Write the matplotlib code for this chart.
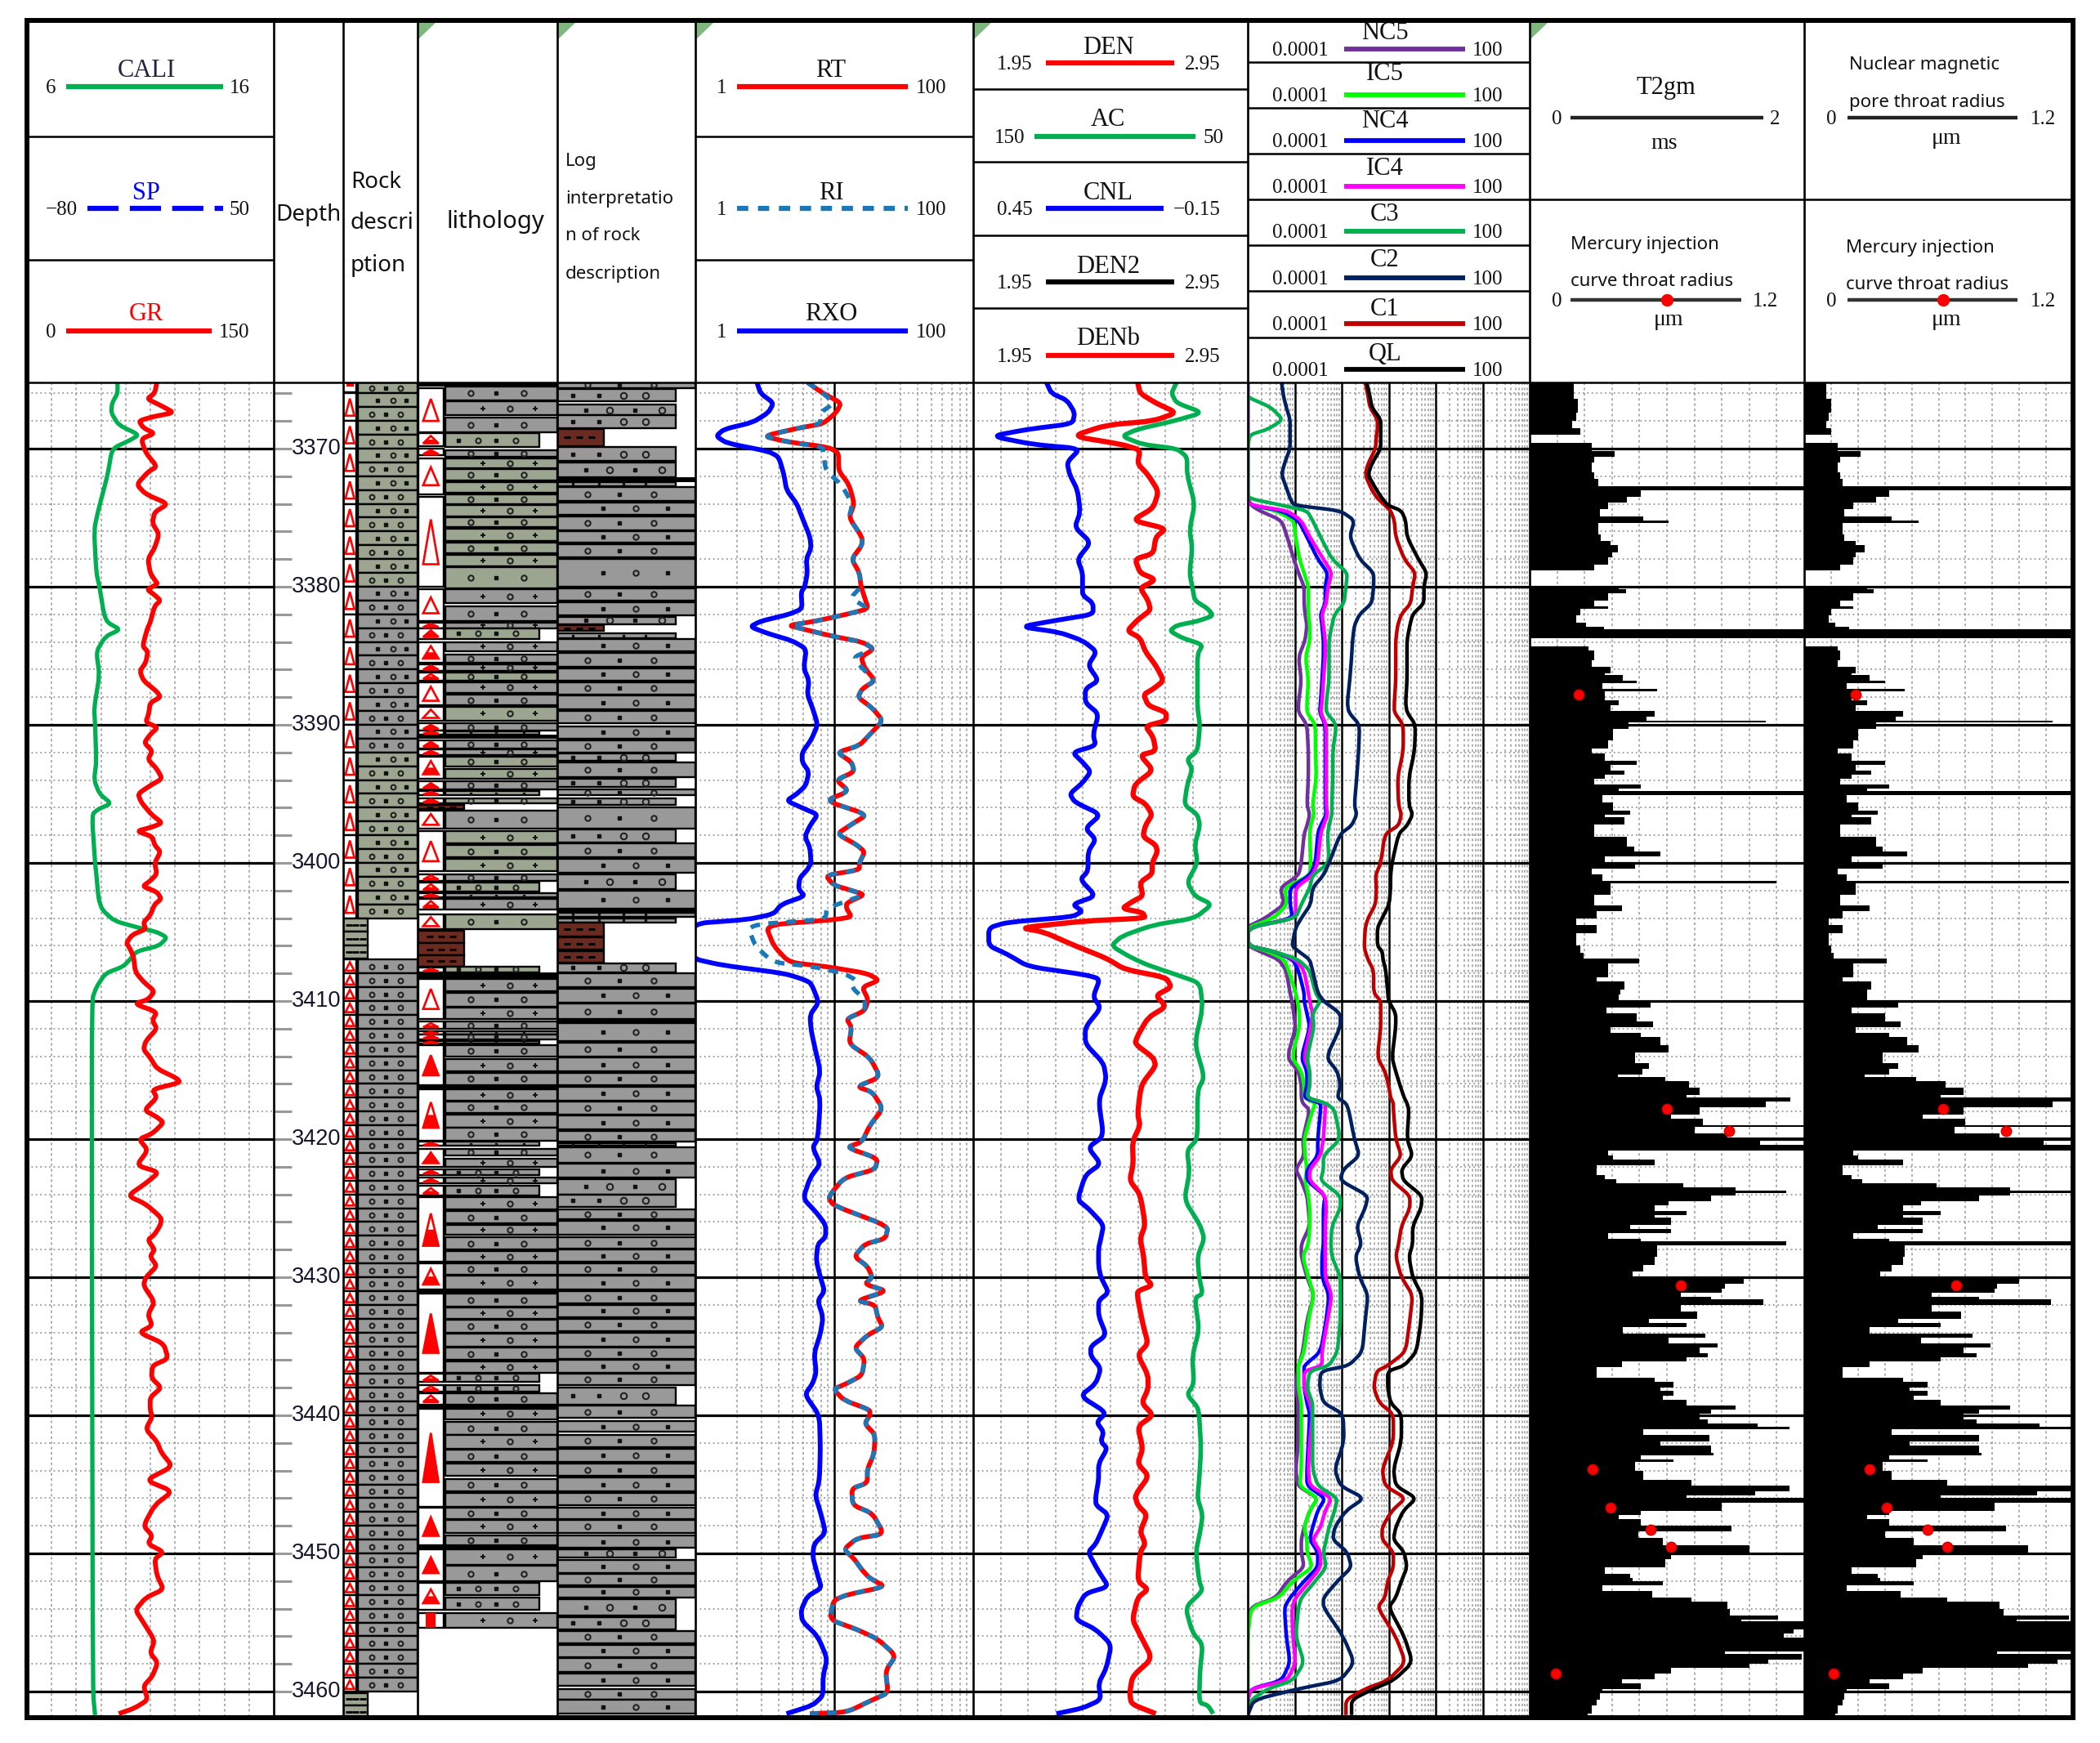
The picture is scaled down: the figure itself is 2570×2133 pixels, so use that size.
import numpy as np
import matplotlib
matplotlib.use("Agg")
import matplotlib.pyplot as plt
from matplotlib.patches import Rectangle, Polygon, PathPatch
from matplotlib.path import Path

W, H = 2570, 2133
TOP_D, BOT_D = 3365.21, 3461.89
SERIF = "Liberation Serif"
SANS = "Noto Sans"

# ---- depth scale
major_depths = [3370, 3380, 3390, 3400, 3410, 3420, 3430, 3440, 3450, 3460]
minor_depths = [3366, 3368, 3372, 3374, 3376, 3378, 3382, 3384, 3386, 3388, 3392, 3394, 3396, 3398,
                3402, 3404, 3406, 3408, 3412, 3414, 3416, 3418, 3422, 3424, 3426, 3428, 3432, 3434,
                3436, 3438, 3442, 3444, 3446, 3448, 3452, 3454, 3456, 3458]

# ---- track 1
gr_d = [3365.2, 3366, 3366.4, 3366.9, 3367.4, 3367.7, 3368, 3368.5, 3368.9, 3369.3, 3370.3, 3371.3, 3371.7, 3372.6, 3373.3, 3374, 3374.6, 3375.4, 3376.2, 3377.2, 3378, 3379,
        3379.5, 3379.8, 3380.2, 3380.6, 3381, 3381.4, 3382.6, 3383.1, 3384.3, 3384.7, 3385.5, 3386.1, 3386.8, 3387.6, 3388, 3388.4, 3389.2, 3389.8, 3390.2, 3390.7, 3391.3, 3391.9, 3392.5, 3393.2, 3393.9, 3394.4, 3395, 3395.6, 3396.5,
        3397.1, 3397.4, 3397.7, 3398.1, 3398.7, 3399.2, 3400, 3400.8, 3401.3, 3401.7, 3402.1, 3402.6, 3403, 3403.8, 3404.3, 3404.8, 3405.2, 3405.8, 3406.2, 3406.8, 3407.9, 3408.6, 3409.3, 3409.9, 3410.2, 3410.8, 3411.4, 3412, 3412.9, 3413.5, 3414.1, 3414.9, 3415.6, 3415.9, 3416.4, 3417, 3417.9, 3418.4, 3418.8, 3419.6, 3420, 3420.8, 3421.9, 3422.4, 3423.2, 3424.1, 3424.7, 3425.7, 3426.2,
        3426.9, 3427.3, 3428, 3428.5, 3429.2, 3430, 3430.6, 3431.8, 3432.7, 3433.5, 3434, 3434.8, 3435.9, 3436.4, 3437.3, 3438, 3438.7, 3439.6, 3440.1, 3441, 3441.9, 3442.7, 3443.7, 3444.7, 3445.5, 3446.5, 3448, 3448.7, 3449.3, 3449.9, 3450.4, 3451.6, 3452.6, 3453.2, 3454.1, 3455, 3456.3, 3457.2, 3457.9, 3458.9, 3459.6, 3460.6, 3461.2, 3461.6]
gr = [79, 77.6, 73, 81.7, 89.3, 76.2, 68, 70.8, 77.6, 69.4, 72.2, 79, 73.5, 66.7, 72.2, 85.8, 77.6, 76.2, 80.3, 77.6, 73.5, 74.9,
      77.6, 79.5, 73, 77.6, 81.2, 77.6, 74.9, 73, 70.3, 73.5, 72.2, 68.6, 70.8, 79, 81.2, 74.9, 74, 72.2, 79.5, 74.9, 71.3, 76.2, 73.5, 79, 82.2, 74.9, 67.5, 69.4, 75.7,
      82.2, 76.2, 66.7, 76.2, 77.6, 81.2, 77.6, 79, 74.9, 70.3, 79, 81.7, 77.6, 74.9, 70.8, 72.2, 64, 60.4, 62.6, 64.8, 65.9, 70.8, 77.6, 73.5, 65.4, 79, 76.2, 79, 72.2, 70.8, 74.9, 79, 91.2, 93.1, 76.2, 79, 71.3, 79, 83.1, 76.2, 68.1, 73.5, 66.7, 80.3, 72.2, 61.3, 72.2, 81.7, 81.2,
      77.6, 73.5, 77.6, 74.9, 79, 72.2, 70.8, 77.6, 73.5, 76.2, 68.1, 83.1, 85.8, 76.2, 75.7, 81.7, 74.9, 74.9, 76.2, 72.2, 79, 81.7, 88.5, 72.2, 88.5, 77.6, 70.8, 76.2, 73.5, 83.1, 77.6, 79, 83.1, 72.2, 65.9, 70.8, 77.6, 74.9, 79.5, 76.2, 70.8, 73.5, 65.4, 55.8]
cali_d = [3365.2, 3366, 3366.7, 3367.4, 3368.3, 3369, 3369.4, 3370, 3371.9, 3374.6, 3375.9, 3379,
          3380, 3382, 3382.6, 3383.1, 3383.6, 3384.7, 3386.4, 3388.8, 3389.9, 3392.7, 3394, 3395, 3395.7, 3396.1, 3396.5,
          3400, 3400.8, 3402.6, 3403.4, 3404.2, 3404.7, 3405, 3405.4, 3406, 3406.4, 3407, 3407.5, 3408, 3409, 3409.9, 3426.3, 3460, 3461.7]
cali = [9.67, 9.67, 9.45, 9.41, 9.72, 10.54, 10.17, 9.45, 9.27, 8.87, 8.72, 8.81,
        8.94, 9.12, 9.27, 9.78, 9.18, 8.81, 8.94, 8.72, 8.76, 8.81, 8.72, 8.94, 9.41, 8.9, 8.63,
        8.76, 8.81, 8.9, 9.05, 9.54, 10.54, 11.26, 11.68, 11.35, 10.45, 10.17, 9.9, 9.18, 8.81, 8.63, 8.63, 8.67, 8.76]

# ---- resistivity, log10 of ohm.m
rt_d = [3365.2, 3366, 3366.7, 3367.4, 3368.2, 3368.5, 3369.1, 3369.5, 3369.9, 3370.3, 3371.6, 3372.6, 3374, 3375, 3376.4, 3377, 3378, 3379,
        3380, 3380.8, 3381.6, 3382, 3382.5, 3382.8, 3383.1, 3383.6, 3384, 3384.5, 3385.1, 3385.9, 3386.8, 3387.4, 3388, 3388.8, 3389.7, 3390.7, 3391.5, 3392, 3392.7, 3393.4, 3394, 3394.8, 3395.5, 3396.5,
        3397.2, 3397.9, 3398.7, 3399.2, 3400, 3400.5, 3400.9, 3401.6, 3402, 3402.3, 3402.9, 3403.3, 3403.9, 3404.1, 3404.5, 3406, 3407.2, 3407.5, 3408, 3408.5, 3409, 3409.9,
        3410.7, 3411.3, 3411.9, 3413.1, 3414.1, 3415.5, 3416.2, 3416.6, 3417.8, 3419, 3420.2, 3420.6, 3421.4, 3422.2, 3422.8, 3424.2, 3424.8, 3426.3,
        3427.2, 3427.6, 3428.5, 3429.2, 3430, 3430.5, 3431, 3431.7, 3432, 3432.9, 3433.6, 3434.2, 3435.1, 3435.9, 3437.1, 3437.7, 3438.1, 3438.9, 3439.6, 3440, 3440.6, 3441.4, 3442.8, 3443.9, 3444.9, 3445.3, 3446.5, 3447.1, 3448.6, 3448.9, 3449.7, 3450.4, 3451.2, 3451.8, 3452.4, 3453, 3453.4, 3454.8, 3455.5, 3456.2, 3457.4, 3458.5, 3460.1, 3460.6, 3461.5, 3461.6]
rt_log = [.806, .919, 1.05, 1.013, .919, .75, .488, .656, .956, 1.031, 1.031, 1.106, 1.144, 1.106, 1.2, 1.2, 1.125, 1.181,
          1.193, 1.219, 1.245, 1.088, .863, .668, .788, .994, 1.2, 1.286, 1.193, 1.219, 1.294, 1.2, 1.17, 1.275, 1.35, 1.256, 1.181, 1.02, 1.125, 1.144, 1.013, 1.106, .938, 1.238,
          1.125, 1.02, 1.163, 1.219, 1.181, 1.181, .938, .994, 1.125, 1.219, 1.088, 1.088, 1.125, 1.013, .506, .563, .675, .938, 1.238, 1.324, 1.2, 1.245,
          1.219, 1.088, 1.125, 1.106, 1.256, 1.331, 1.163, 1.275, 1.35, 1.256, 1.2, 1.088, 1.313, 1.294, 1.069, .956, .994, 1.388,
          1.369, 1.219, 1.144, 1.238, 1.275, 1.219, 1.38, 1.163, 1.294, 1.313, 1.35, 1.238, 1.144, 1.219, 1.2, 1.088, .994, 1.069, 1.256, 1.256, 1.219, 1.294, 1.286, 1.238, 1.238, 1.125, 1.133, 1.275, 1.358, 1.163, 1.069, 1.144, 1.2, 1.256, 1.369, 1.088, .994, .968, 1.163, 1.313, 1.444, 1.369, 1.388, 1.275, 1.088, .825]
ri_log = [.806, .919, 1.0, .9, .9, .75, .488, .656, .92, .92, .94, 1.05, 1.13, 1.106, 1.2, 1.2, 1.125, 1.181,
          1.193, 1.118, 1.245, 1.088, .863, .668, .788, .994, 1.2, 1.286, 1.136, 1.2, 1.294, 1.2, 1.17, 1.275, 1.35, 1.256, 1.181, 1.02, 1.125, 1.144, 1.013, 1.106, .938, 1.238,
          1.125, 1.02, 1.163, 1.219, 1.181, 1.181, .938, .994, 1.125, 1.219, 1.05, .945, .94, .9, .375, .43, .56, .84, 1.07, 1.16, 1.125, 1.22,
          1.219, 1.088, 1.125, 1.106, 1.256, 1.331, 1.163, 1.275, 1.35, 1.256, 1.2, 1.088, 1.313, 1.294, 1.069, .956, .994, 1.388,
          1.369, 1.219, 1.144, 1.238, 1.275, 1.219, 1.38, 1.163, 1.294, 1.313, 1.35, 1.238, 1.144, 1.219, 1.2, 1.088, .994, 1.069, 1.256, 1.256, 1.219, 1.294, 1.286, 1.238, 1.238, 1.125, 1.133, 1.275, 1.358, 1.163, 1.069, 1.144, 1.2, 1.256, 1.369, 1.088, .994, .968, 1.163, 1.313, 1.444, 1.369, 1.388, 1.275, 1.088, .825]
rxo_d = [3365.2, 3366, 3366.7, 3367.4, 3368.1, 3368.6, 3369.1, 3369.6, 3370.2, 3370.6, 3371.9, 3373, 3374, 3375, 3376.4, 3377.2, 3378, 3379,
         3380, 3380.4, 3381.6, 3382, 3382.5, 3382.9, 3383.4, 3383.9, 3384.5, 3385.9, 3386.8, 3387.8, 3388.8, 3390, 3391.1, 3392, 3392.7, 3393.4, 3394.4, 3395, 3395.5, 3396.1, 3396.5,
         3397.3, 3398.1, 3398.9, 3400, 3400.5, 3401.1, 3401.9, 3402.4, 3403, 3403.7, 3404.1, 3404.4, 3406.9, 3407.4, 3408, 3408.4, 3408.7, 3410.1, 3411, 3412.1, 3413.5, 3415.1, 3416.2, 3417.2, 3420, 3420.6, 3421.8, 3422.8, 3424.3, 3425.3, 3426.2,
         3427.1, 3427.6, 3428.8, 3430, 3431, 3431.7, 3432.9, 3434.1, 3435.5, 3436.9, 3437.7, 3438.5, 3440, 3442.4, 3444.7, 3445.8, 3447, 3448.5, 3449.3, 3450.2, 3451.6, 3452.5, 3453.1, 3454.1, 3454.9, 3456, 3457.6, 3458.9, 3460.3, 3461, 3461.6]
rxo_log = [.443, .469, .563, .525, .413, .206, .15, .225, .525, .6, .638, .656, .731, .769, .825, .833, .799, .806,
           .788, .761, .769, .675, .469, .394, .525, .694, .799, .78, .818, .806, .844, .881, .833, .769, .769, .818, .795, .731, .656, .788, .881,
           .825, .788, .825, .833, .806, .75, .743, .788, .619, .563, .375, -.03, -.03, .188, .638, .769, .833, .889, .825, .833, .863, .9, .87, .9, .881, .844, .9, .825, .776, .87, .938,
           .938, .881, .87, .9, .93, .881, .919, .9, .855, .87, .844, .788, .893, .9, .893, .863, .9, .938, .855, .844, .881, .908, .806, .761, .769, .881, .949, .919, .919, .844, .656]

# ---- porosity and density
den_d = [3365.2, 3366, 3366.7, 3367.4, 3368, 3368.3, 3369.1, 3369.7, 3370.1, 3371.1, 3371.9, 3373.1, 3374.3, 3375.2, 3375.8, 3376.4, 3377.6, 3378, 3379,
         3379.4, 3379.6, 3380.1, 3381, 3381.7, 3382.4, 3383.2, 3383.7, 3384.7, 3385.7, 3386.8, 3387.4, 3387.8, 3388.6, 3389.1, 3389.7, 3390.1, 3390.9, 3391.9, 3392.2, 3393.3, 3394.3, 3395.2, 3395.7, 3396.5,
         3397.3, 3398.1, 3398.7, 3399.2, 3400, 3400.8, 3401.4, 3402.4, 3402.8, 3403.3, 3403.6, 3404, 3404.2, 3404.7, 3405, 3406, 3406.9, 3407.7, 3408.3, 3409, 3409.6, 3410.4, 3411.2, 3412.5, 3413.1, 3414.1, 3414.7, 3415.9, 3416.6, 3418.2, 3419, 3420.2, 3421.8, 3423, 3424, 3426.2,
         3427.2, 3428.5, 3430, 3430.6, 3431, 3431.5, 3433.4, 3434.8, 3435.6, 3437.1, 3438.1, 3439.1, 3440, 3440.8, 3442.4, 3443.5, 3444.4, 3445.8, 3446.5, 3447.2, 3448.4, 3449.3, 3449.9, 3452, 3452.6, 3453.2, 3454.8, 3455.9, 3457.6, 3458.9, 3460.1, 3460.9, 3461.6]
den = [2.549, 2.558, 2.615, 2.691, 2.606, 2.435, 2.311, 2.492, 2.558, 2.549, 2.587, 2.625, 2.606, 2.53, 2.653, 2.615, 2.606, 2.539, 2.558,
       2.606, 2.606, 2.558, 2.587, 2.596, 2.549, 2.511, 2.558, 2.577, 2.615, 2.644, 2.606, 2.571, 2.587, 2.653, 2.653, 2.577, 2.606, 2.615, 2.558, 2.606, 2.539, 2.53, 2.577, 2.602,
       2.577, 2.568, 2.615, 2.621, 2.602, 2.602, 2.558, 2.568, 2.53, 2.492, 2.568, 2.577, 2.359, 2.121, 2.207, 2.321, 2.435, 2.501, 2.653, 2.672, 2.615, 2.653, 2.587, 2.549, 2.539, 2.606, 2.615, 2.568, 2.558, 2.549, 2.558, 2.53, 2.533, 2.52, 2.558, 2.577,
       2.558, 2.571, 2.577, 2.602, 2.549, 2.549, 2.568, 2.587, 2.549, 2.587, 2.587, 2.564, 2.606, 2.549, 2.568, 2.549, 2.59, 2.539, 2.549, 2.583, 2.558, 2.577, 2.558, 2.549, 2.587, 2.549, 2.53, 2.558, 2.602, 2.53, 2.52, 2.526, 2.615]
ac_d = [3365.2, 3366, 3366.7, 3367.4, 3368, 3368.6, 3369.1, 3369.7, 3370, 3370.6, 3371.9, 3374, 3375.9, 3377.2, 3379,
        3380, 3381, 3381.6, 3382.1, 3382.5, 3382.8, 3383.2, 3383.7, 3384.2, 3384.9, 3386.8, 3388.8, 3390, 3391.9, 3392.5, 3393.2, 3394.4, 3395.8, 3396.5,
        3397.3, 3398.7, 3400, 3401.4, 3402.4, 3403, 3404, 3404.5, 3405.3, 3406, 3406.8, 3407.4, 3408.1, 3408.7, 3410.5, 3413.1, 3415.5, 3416.5, 3420, 3420.8, 3422.4, 3424.4, 3426.2,
        3427.2, 3428.5, 3430, 3431.2, 3431.5, 3433.8, 3435.7, 3437.7, 3438.5, 3439.4, 3440, 3442.4, 3444.7, 3446, 3447.2, 3448.5, 3449.9, 3452, 3452.7, 3453.9, 3455.7, 3456.6, 3458.5, 3460.8, 3461, 3461.6]
ac = [75.9, 77.8, 75.9, 66.4, 76.9, 90.2, 95.9, 88.3, 75.9, 72.1, 72.1, 69.3, 71.2, 70.2, 71.2,
      70.2, 69.3, 64.5, 62.6, 68.3, 75.9, 78.4, 74, 66.4, 68.3, 68.3, 68.3, 67.4, 68.3, 72.1, 70.2, 72.1, 73.1, 68.3,
      67.4, 69.3, 68.3, 72.1, 69.3, 63, 69.3, 84.5, 95.9, 99.7, 93, 86.4, 75.9, 67.4, 66.4, 69.3, 65.8, 68.3, 68.3, 72.1, 71.2, 73.1, 67.4,
      65.8, 68.3, 67.7, 66.4, 69.3, 67.7, 70.2, 69.6, 72.1, 68.3, 67.7, 67, 67.7, 68.3, 66.4, 67.4, 68.9, 67.7, 66.4, 72.7, 70.2, 66.4, 67.4, 67.7, 64.5, 62.6]
cnl_d = [3365.2, 3366, 3366.5, 3367.4, 3368.2, 3368.6, 3369.1, 3369.7, 3370, 3371, 3371.9, 3373, 3374.6, 3375.7, 3376.8, 3378, 3379,
         3380, 3380.6, 3381.2, 3382, 3382.4, 3382.9, 3383.3, 3383.9, 3384.7, 3385.7, 3386.8, 3387.4, 3388.4, 3389.2, 3390.7, 3391.5, 3392, 3392.7, 3393.4, 3394.2, 3395, 3395.6, 3396.5,
         3397.5, 3398.3, 3399.2, 3400.6, 3401.2, 3402.4, 3403, 3403.5, 3403.9, 3404.3, 3404.7, 3406, 3406.6, 3407.5, 3408.1, 3408.4, 3409.7, 3410.5, 3411.9, 3413.1, 3414.5, 3415.7, 3417.2, 3419.8, 3420.6, 3421.8, 3422.6, 3424.4, 3425, 3426.2,
         3427.2, 3427.9, 3429.2, 3430, 3431.1, 3431.7, 3432.8, 3434.2, 3435, 3435.7, 3436.6, 3437.7, 3438.6, 3439.8, 3440.5, 3441.2, 3441.9, 3442.4, 3443.5, 3444.7, 3445.8, 3446.5, 3447.2, 3448.5, 3449.3, 3449.9, 3451.3, 3452.4, 3452.9, 3453.9, 3454.8, 3455.5, 3456.6, 3458.3, 3459.4, 3460.6, 3461.2, 3461.6]
cnl = [.29, .279, .245, .228, .233, .33, .41, .319, .216, .245, .239, .222, .216, .228, .193, .222, .211,
       .211, .211, .188, .188, .262, .347, .262, .211, .18, .199, .176, .205, .205, .176, .188, .182, .233, .211, .193, .211, .239, .228, .171,
       .205, .182, .199, .199, .216, .182, .233, .211, .233, .376, .416, .416, .376, .33, .205, .173, .188, .171, .205, .205, .165, .159, .176, .165, .199, .171, .205, .222, .199, .165,
       .171, .176, .176, .171, .154, .176, .176, .159, .193, .193, .171, .182, .216, .159, .18, .165, .171, .157, .176, .176, .182, .182, .154, .171, .182, .199, .176, .154, .205, .222, .225, .182, .148, .159, .176, .171, .211, .268]

# ---- mud gas, log10 of percent, all curves read at the same depths
gas_d = [3365.2, 3366.2, 3367, 3367.9, 3368.6, 3369, 3370, 3371.1, 3371.9, 3373, 3373.6,
         3374.1, 3374.5, 3375.2, 3376.4, 3378, 3379,
         3380, 3381.2, 3382, 3382.8, 3383.9, 3385.1, 3386.8, 3388.4, 3389.1, 3390, 3391.9, 3393.8, 3395.8, 3396.5,
         3397.3, 3397.9, 3400, 3400.9, 3401.8, 3403, 3404, 3404.7, 3406, 3406.4, 3407, 3407.8, 3409.4, 3410, 3410.9, 3411.9, 3414.1, 3415.1, 3416.1, 3417, 3417.4, 3417.9, 3420, 3421.2, 3422.2, 3423, 3424.1, 3425, 3426.3,
         3427.6, 3428.5, 3430, 3431.3, 3433.1, 3435.4, 3436.4, 3436.8, 3438, 3439.1, 3439.9, 3441.9, 3443.9, 3445.1, 3446, 3446.9, 3448.1, 3449, 3449.9, 3451, 3452, 3453.2, 3453.9, 3456, 3457.9, 3459.2, 3459.8, 3460.6, 3461.7]
nc5 = [-4, -4, -4, -4, -4, -4, -4, -4, -4, -4, -4,
       -3.93, -3.75, -3.28, -3.16, -3.02, -2.92,
       -2.80, -2.80, -2.78, -2.74, -2.78, -2.92, -2.86, -2.92, -2.92, -2.74, -2.71, -2.71, -2.74, -2.68,
       -2.74, -2.80, -2.86, -2.92, -3.31, -3.22, -3.63, -4.05, -3.99, -3.75, -3.34, -3.18, -3.10, -3.06, -3.02, -2.98, -3.16, -2.92, -2.86, -2.86, -2.83, -2.68, -2.83, -2.80, -2.98, -2.86, -2.74, -2.71, -2.68,
       -2.86, -2.86, -2.74, -2.59, -2.74, -2.83, -2.92, -2.94, -2.98, -2.92, -2.92, -2.92, -2.98, -2.94, -2.51, -2.68, -2.80, -2.86, -2.86, -2.80, -3.16, -3.40, -3.96, -4, -4, -4, -4, -4, -4]
ic5 = [-4, -4, -4, -4, -4, -4, -4, -4, -4, -4, -4,
       -3.93, -3.40, -3.02, -2.98, -2.90, -2.80,
       -2.71, -2.71, -2.71, -2.68, -2.68, -2.77, -2.71, -2.74, -2.74, -2.56, -2.56, -2.54, -2.62, -2.59,
       -2.66, -2.68, -2.66, -2.68, -3.22, -3.16, -3.45, -4.01, -3.99, -3.57, -3.22, -3.13, -2.98, -2.94, -2.90, -2.90, -3.06, -2.86, -2.80, -2.80, -2.56, -2.62, -2.80, -2.78, -2.74, -2.78, -2.71, -2.68, -2.68,
       -2.71, -2.83, -2.71, -2.59, -2.71, -2.80, -2.92, -2.92, -2.92, -2.86, -2.86, -2.86, -2.86, -2.90, -2.51, -2.68, -2.80, -2.74, -2.74, -2.62, -3.04, -3.34, -3.93, -4, -4, -4, -4, -4, -4]
nc4 = [-4, -4, -4, -4, -4, -4, -4, -4, -4, -4, -4,
       -3.93, -3.28, -2.92, -2.74, -2.51, -2.30,
       -2.35, -2.35, -2.45, -2.42, -2.39, -2.39, -2.42, -2.45, -2.47, -2.35, -2.35, -2.35, -2.35, -2.33,
       -2.45, -2.51, -2.56, -2.68, -3.10, -3.10, -3.04, -3.99, -3.99, -3.45, -3.04, -2.92, -2.80, -2.80, -2.74, -2.68, -2.86, -2.74, -2.74, -2.80, -2.45, -2.45, -2.51, -2.51, -2.74, -2.74, -2.35, -2.39, -2.39,
       -2.39, -2.42, -2.42, -2.27, -2.33, -2.45, -2.80, -2.80, -2.80, -2.74, -2.68, -2.71, -2.74, -2.74, -2.35, -2.51, -2.62, -2.68, -2.51, -2.51, -2.80, -3.10, -3.22, -3.18, -3.10, -3.28, -3.93, -4, -4]
ic4 = [-4, -4, -4, -4, -4, -4, -4, -4, -4, -4, -4,
       -3.93, -3.16, -2.86, -2.68, -2.39, -2.21,
       -2.29, -2.33, -2.42, -2.39, -2.35, -2.35, -2.39, -2.42, -2.45, -2.33, -2.33, -2.33, -2.33, -2.30,
       -2.39, -2.45, -2.51, -2.62, -2.98, -2.98, -2.98, -3.99, -3.99, -3.45, -2.98, -2.80, -2.71, -2.68, -2.62, -2.66, -2.80, -2.68, -2.68, -2.74, -2.35, -2.35, -2.39, -2.45, -2.68, -2.68, -2.35, -2.33, -2.35,
       -2.35, -2.35, -2.35, -2.21, -2.30, -2.42, -2.42, -2.80, -2.80, -2.68, -2.62, -2.68, -2.71, -2.68, -2.21, -2.35, -2.45, -2.62, -2.45, -2.45, -2.68, -2.98, -3.06, -3.04, -2.98, -3.16, -3.93, -4, -4]
c3 = [-4, -4.05, -3.51, -3.25, -3.57, -3.96, -4, -4, -4, -4, -3.99,
      -3.28, -2.74, -2.62, -2.45, -2.21, -1.88,
      -1.91, -1.95, -2.15, -2.21, -2.27, -2.27, -2.27, -2.33, -2.33, -2.11, -2.19, -2.19, -2.21, -2.21,
      -2.27, -2.30, -2.27, -2.62, -2.68, -2.86, -2.98, -3.99, -3.99, -3.45, -2.92, -2.68, -2.56, -2.45, -2.62, -2.59, -2.74, -2.68, -2.68, -2.74, -2.33, -2.15, -2.03, -2.39, -2.39, -2.45, -2.03, -2.03, -2.21,
      -2.23, -2.21, -2.03, -2.03, -2.03, -2.09, -2.27, -2.68, -2.74, -2.62, -2.62, -2.62, -2.62, -2.51, -2.09, -2.15, -2.27, -2.33, -2.39, -2.33, -2.56, -2.86, -2.92, -2.98, -2.80, -3.04, -3.57, -3.93, -4]
c2 = [-3.28, -3.24, -3.18, -3.10, -3.10, -3.10, -3.10, -3.22, -3.28, -3.16, -3.10,
      -3.02, -2.03, -1.73, -1.83, -1.62, -1.32,
      -1.32, -1.36, -1.62, -1.73, -1.77, -1.79, -1.83, -1.88, -1.85, -1.62, -1.64, -1.68, -1.73, -1.68,
      -1.79, -2.03, -2.27, -2.39, -2.62, -2.66, -2.86, -2.98, -3.06, -2.92, -2.68, -2.62, -2.51, -2.39, -2.03, -2.03, -2.33, -2.09, -2.03, -2.09, -1.91, -1.85, -1.73, -1.62, -1.97, -2.03, -1.44, -1.50, -1.68,
      -1.58, -1.71, -1.62, -1.44, -1.50, -1.56, -1.85, -2.45, -2.47, -2.39, -1.97, -1.95, -2.15, -2.03, -1.52, -1.91, -2.15, -2.19, -1.88, -1.79, -2.09, -2.39, -2.39, -1.97, -1.73, -2.03, -2.92, -3.87, -4]
c1 = [-1.50, -1.44, -1.40, -1.24, -1.24, -1.26, -1.28, -1.44, -1.50, -1.36, -1.24,
      -1.08, -.96, -.88, -.85, -.67, -.43,
      -.49, -.53, -.73, -.81, -.85, -.85, -.85, -.88, -.88, -.69, -.69, -.81, -.79, -.73,
      -.79, -1.08, -1.17, -1.28, -1.26, -1.28, -1.44, -1.50, -1.52, -1.50, -1.44, -1.32, -1.32, -1.17, -1.17, -1.17, -1.24, -1.08, -1.00, -.96, -.90, -.90, -.85, -.73, -.96, -.93, -.55, -.55, -.73,
      -.79, -.85, -.73, -.49, -.55, -.64, -1.02, -1.26, -1.32, -1.20, -.90, -.90, -1.14, -1.08, -.64, -.93, -1.14, -1.14, -.90, -.90, -1.02, -1.08, -1.24, -.85, -.64, -1.02, -1.50, -1.91, -1.91]
ql = [-1.47, -1.40, -1.36, -1.17, -1.17, -1.17, -1.17, -1.36, -1.44, -1.26, -1.14,
      -1.02, -.73, -.64, -.61, -.37, -.19,
      -.25, -.25, -.49, -.55, -.61, -.61, -.61, -.64, -.61, -.43, -.45, -.57, -.57, -.49,
      -.61, -.79, -.93, -.96, -.96, -.99, -1.14, -1.24, -1.24, -1.14, -1.12, -1.06, -1.02, -1.00, -.85, -.85, -.93, -.85, -.76, -.67, -.61, -.57, -.61, -.49, -.73, -.69, -.29, -.31, -.49,
      -.49, -.57, -.49, -.29, -.31, -.41, -.67, -1.02, -1.02, -.96, -.73, -.73, -.90, -.85, -.41, -.69, -.85, -.90, -.67, -.61, -.73, -.85, -1.00, -.67, -.49, -.90, -1.32, -1.79, -1.79]

# ---- nmr bars
bar_d = [3365.2, 3366.4, 3367.4, 3368, 3368.5, 3369, 3369.6, 3370.2, 3370.6, 3371, 3371.7, 3372.2, 3372.7, 3373, 3373.5, 3373.9, 3374.4, 3374.9, 3375.2, 3375.4, 3376.2, 3376.7, 3377, 3377.5, 3377.9, 3378.4, 3378.8,
         3380, 3380.2, 3380.5, 3381, 3381.4, 3381.6, 3382.1, 3382.6, 3382.9, 3383.1, 3383.7, 3384.3, 3384.6, 3385.3, 3385.8, 3386.3, 3386.4, 3386.8, 3387, 3387.4, 3387.6, 3388.2, 3388.6, 3389, 3389.4, 3389.7, 3389.8, 3390.3, 3391.1, 3391.7, 3392.1, 3392.6, 3392.9, 3393.3, 3393.6, 3393.9, 3394.3, 3394.6, 3394.8, 3395.1, 3395.6, 3396.2, 3396.5,
         3396.7, 3397.2, 3398.1, 3398.8, 3399.2, 3399.5, 3400, 3400.4, 3400.8, 3401.3, 3401.5, 3402.3, 3403.1, 3403.5, 3404, 3404.5, 3405.1, 3406, 3406.5, 3406.9, 3407.3, 3408.3, 3408.6, 3409.2, 3409.5, 3410, 3410.5, 3410.9, 3411.5, 3411.9, 3412.3, 3412.6, 3413.2, 3413.7, 3414.5, 3414.9, 3415.3, 3415.5, 3415.8, 3416.3, 3416.8, 3417, 3417.3, 3417.7, 3418.2, 3418.5, 3419, 3419.1, 3419.6, 3419.9, 3420, 3420.4, 3420.8, 3421.2, 3421.5, 3421.9, 3422.6, 3422.9, 3423.2, 3423.5, 3423.7, 3423.9, 3424.1, 3424.5, 3424.8, 3425.2, 3425.5, 3425.7, 3426.2,
         3426.5, 3426.8, 3427.2, 3427.4, 3427.7, 3428.5, 3429.1, 3429.6, 3430.1, 3430.5, 3430.8, 3431.1, 3431.4, 3431.6, 3432, 3432.5, 3433, 3433.3, 3433.6, 3434.1, 3434.4, 3434.8, 3435.1, 3435.5, 3435.8, 3436.1, 3436.5, 3437.3, 3437.6, 3438, 3438.2, 3438.6, 3438.9, 3439.3, 3439.6, 3439.9, 3440.3, 3440.6, 3440.8, 3441, 3441.4, 3441.9, 3442.2, 3442.7, 3442.9, 3443.2, 3443.4, 3444, 3444.7, 3445.1, 3445.5, 3445.8, 3446, 3446.3, 3446.9, 3447.2, 3447.5, 3448, 3448.4, 3448.9, 3449.4, 3450, 3450.4, 3451, 3451.5, 3451.8, 3452, 3452.3, 3452.7, 3453.2, 3453.5, 3454, 3454.5, 3454.8, 3454.9, 3455.5, 3455.8, 3456.1, 3457.1, 3457.3, 3457.7, 3458, 3458.3, 3458.7, 3459.1, 3459.4, 3459.8, 3460.1, 3460.6, 3461, 3461.6, 3462]
t2gm = [.32, .35, .34, .31, .37, 0, .45, .62, .47, .45, .47, .50, 2, .81, .71, .57, .51, .83, 1.01, .50, .52, .59, .64, .60, .57, .47, 0,
        .65, .70, .57, .47, .57, .37, .34, .41, .54, 2, 0, .43, .47, .45, .59, .55, .68, .78, .53, .93, .55, .65, .59, .91, .85, 1.72, .72, .61, .57, .45, .55, .78, .59, .69, .55, .47, .81, .65, 2, .53, .61, .73, .55,
        .69, .47, .71, .76, .95, .55, .77, .45, .53, 1.80, .59, .47, .67, .49, .34, .49, .34, .37, .39, .80, .57, .49, .69, .66, .65, .88, .56, .78, .90, .59, .81, .95, 1.01, .77, .87, .82, .64, .99, 1.16, 1.24, 1.14, 1.90, 1.72, 1.24, 1.03, 1.26, 2, 1.20, 1.44, 2, 1.68, 2, .57, .61, .91, .49, .55, .63, 1.12, 1.50, 1.87, 1.50, 1.32, 1.01, .91, 1.14, .91, 1.03, .73,
        1.03, .57, .81, 1.87, .93, .91, .83, .75, 1.56, 1.42, 1.40, 1.10, 1.32, 1.70, 1.10, 1.22, .87, 1.14, .68, 1.28, 1.01, 1.37, 1.24, 1.30, 1.14, .67, .49, .91, 1.05, .95, 1.05, .97, 1.14, 1.50, 1.32, 1.24, 1.30, 1.66, 1.89, .83, 1.31, .95, 1.32, 1.34, .81, 1.05, .77, .83, 1.18, 1.89, 1.64, 1.14, 2, 1.40, .81, .65, .81, 1.47, .79, .97, 1.60, 1.03, .99, .55, .73, .75, .97, .53, .89, 1.18, 1.44, 1.46, 1.81, 1.54, 2, 1.92, 1.85, 2, 1.42, 1.98, 1.74, 1.60, 1.03, .91, .67, .81, .53, .51, .49, .45, .42, .42]
pore = [.10, .12, .11, .10, .12, 0, .15, .25, .16, .15, .16, .17, 1.2, .38, .32, .22, .18, .39, .51, .17, .18, .23, .27, .23, .22, .16, 0,
        .28, .31, .22, .16, .22, .12, .11, .14, .20, 1.2, 0, .15, .16, .15, .23, .21, .29, .36, .19, .45, .21, .28, .23, .44, .41, 1.11, .32, .24, .22, .15, .21, .36, .23, .30, .21, .16, .38, .28, 1.2, .19, .24, .33, .21,
        .30, .16, .32, .35, .46, .21, .35, .15, .19, 1.18, .23, .16, .29, .17, .11, .17, .11, .12, .13, .37, .22, .17, .30, .28, .28, .42, .21, .36, .43, .23, .38, .46, .51, .35, .42, .38, .27, .50, .63, .71, .61, 1.2, 1.11, .71, .53, .72, 1.2, .67, .87, 1.2, 1.07, 1.2, .22, .24, .44, .17, .21, .26, .59, .92, 1.2, .92, .78, .52, .44, .61, .44, .53, .33,
        .53, .22, .38, 1.2, .45, .44, .39, .34, .96, .86, .85, .57, .78, 1.10, .57, .70, .42, .61, .29, .75, .52, .83, .71, .77, .61, .29, .17, .44, .55, .47, .55, .49, .61, .92, .78, .71, .77, 1.05, 1.2, .39, .78, .47, .78, .79, .38, .55, .35, .39, .64, 1.2, 1.04, .61, 1.2, .85, .38, .28, .38, .90, .36, .49, 1.0, .53, .50, .21, .33, .34, .49, .19, .43, .64, .87, .89, 1.18, .95, 1.2, 1.2, 1.2, 1.2, .86, 1.2, 1.13, 1.0, .53, .44, .29, .38, .19, .18, .17, .15, .14, .14]
dot_d = [3387.8, 3417.8, 3419.4, 3430.6, 3443.9, 3446.7, 3448.3, 3449.5, 3458.7]
t2_dot = [.36, 1.0, 1.45, 1.10, .46, .59, .88, 1.03, .19]
pore_dot = [.23, .62, .90, .68, .29, .37, .55, .64, .13]

# ---- rock description column, bed boundaries in metres
rock_upper = [3365.2, 3366, 3367, 3368, 3369, 3370, 3371, 3372, 3373, 3374, 3375, 3376, 3377, 3378, 3379, 3380, 3381,
              3382, 3383, 3384, 3385, 3386, 3387, 3388, 3389, 3390, 3391, 3392, 3393, 3394, 3395, 3396, 3397, 3398,
              3399, 3400, 3401, 3402, 3403, 3404]
rock_lower = [3407, 3408, 3409, 3410, 3411, 3412, 3413, 3414, 3415, 3416, 3417, 3418, 3419, 3420, 3421, 3422, 3423, 3424,
              3425, 3426, 3427, 3428, 3429, 3430, 3431, 3432, 3433, 3434, 3435, 3436, 3437, 3438, 3439, 3440, 3441, 3442,
              3443, 3444, 3445, 3446, 3447, 3448, 3449, 3450, 3451, 3452, 3453, 3454, 3455, 3456, 3457, 3458, 3459, 3460]
rock_grey_from, rock_grey_to = 3380, 3392
rock_tri_upper = [3366, 3368, 3370, 3372, 3374, 3376, 3378, 3380, 3382, 3384, 3386, 3388, 3390, 3392, 3394, 3396, 3398,
                  3400, 3402, 3404]
silt_top = [3404, 3405, 3406, 3460.1, 3461]
silt_base = [3405, 3406, 3406.9, 3461, 3461.9]

# ---- lithology column: 0 grey, 1 green, 2 narrow grey, 3 narrow green, 4 brown
lith_top = [3365.5, 3366.6, 3367.75, 3368.9, 3370.1, 3370.7, 3371.5, 3372.4, 3373.3, 3374.1, 3375, 3375.8, 3376.8, 3377.7, 3378.6,
            3380.2, 3381.4, 3382.6, 3383, 3384, 3384.9, 3385.6, 3386.2, 3386.9, 3387.8, 3388.7, 3389.9, 3390.5, 3391.1, 3391.8, 3392.3, 3393.2, 3394.1, 3394.8, 3395.3, 3395.8, 3396.2,
            3397.7, 3398.7, 3399.7, 3400.8, 3401.4, 3402.2, 3402.6, 3403.7, 3404.9, 3405.8, 3406.7, 3407.5,
            3408.4, 3409.4, 3410.5, 3411.5, 3412.2, 3412.4, 3412.9, 3413.2, 3414.2, 3415.2, 3416.4, 3417.3, 3418.2, 3419.2, 3420.2, 3420.7, 3421.4, 3422.2, 3422.8, 3423.4, 3424.2, 3425.2,
            3426.2, 3427.1, 3428.1, 3429, 3429.9, 3431.2, 3432.2, 3433.1, 3434.1, 3435.1, 3436.1, 3437, 3437.8, 3438.4, 3439.5, 3440.5, 3441.4, 3442.5, 3443.5, 3444.6, 3445.6, 3446.7, 3447.6, 3448.7, 3449.7, 3450.9, 3452.1, 3453.2, 3454.3]
lith_base = [3366.5, 3367.6, 3368.8, 3369.9, 3370.6, 3371.4, 3372.3, 3373.2, 3374, 3374.9, 3375.7, 3376.7, 3377.6, 3378.5, 3380.1,
             3381.2, 3382.5, 3383, 3383.8, 3384.7, 3385.5, 3386.1, 3386.8, 3387.7, 3388.6, 3389.7, 3390.4, 3390.7, 3391.7, 3392.2, 3393, 3393.9, 3394.7, 3395.1, 3395.7, 3396.1, 3397.5,
             3398.6, 3399.6, 3400.6, 3401.3, 3402.1, 3402.5, 3403.4, 3404.8, 3405.8, 3406.7, 3407.5, 3407.9,
             3409.3, 3410.4, 3411.3, 3412, 3412.4, 3412.8, 3413.1, 3414, 3415.1, 3416.1, 3417.2, 3418.1, 3419.2, 3420.1, 3420.5, 3421.2, 3422, 3422.6, 3423.2, 3424.1, 3425.1, 3426.1,
             3426.9, 3428, 3428.9, 3429.8, 3430.9, 3432.1, 3433, 3434, 3435, 3436, 3436.9, 3437.6, 3438.3, 3439.2, 3440.3, 3441.4, 3442.4, 3443.4, 3444.4, 3445.5, 3446.6, 3447.5, 3448.5, 3449.4, 3450.8, 3452, 3453, 3454.1, 3455.4]
lith_kind = [0, 0, 0, 3, 0, 1, 1, 1, 1, 1, 1, 1, 1, 1, 1,
             0, 0, 0, 3, 0, 0, 0, 1, 0, 0, 1, 0, 3, 0, 0, 1, 1, 0, 3, 1, 4, 0,
             1, 1, 1, 0, 3, 0, 0, 1, 4, 4, 4, 3,
             0, 0, 0, 0, 0, 0, 3, 0, 0, 0, 0, 0, 0, 0, 2, 0, 0, 2, 0, 2, 0, 0,
             0, 0, 0, 0, 0, 0, 0, 0, 0, 0, 0, 2, 2, 0, 0, 0, 0, 0, 0, 0, 0, 0, 0, 0, 0, 0, 2, 2, 0]
lith_black_top = [3365.2, 3390.7, 3407.9, 3416.1, 3430.9, 3439.2, 3449.4]
lith_black_base = [3365.5, 3391, 3408.4, 3416.4, 3431.2, 3439.5, 3449.7]
# triangle boxes: 0 hollow, 1 half filled, 2 filled, 3 bar
tri_top = [3365.6, 3368.9, 3370, 3370.7, 3373.5, 3380.2, 3382.6, 3383, 3384, 3385.6, 3386.2, 3386.9, 3388.7, 3389.9, 3390.4, 3391.1, 3391.8, 3392.3, 3394.1, 3394.8, 3395.3, 3396.2,
           3397.7, 3400.8, 3401.4, 3402.2, 3402.6, 3403.7, 3407.6, 3408.4, 3411.5, 3412.2, 3412.4, 3412.9, 3413.2, 3416.4, 3420.2, 3420.7, 3422.2, 3422.8, 3423.4, 3424.2,
           3429, 3431.2, 3437, 3437.8, 3438.4, 3439.5, 3446.7, 3449.7, 3452.1, 3454.3]
tri_base = [3368.8, 3369.8, 3370.5, 3373.3, 3380, 3382.5, 3383, 3383.8, 3385.5, 3386.1, 3386.8, 3388.6, 3389.7, 3390.4, 3390.7, 3391.7, 3392.2, 3393.9, 3394.7, 3395.1, 3395.7, 3397.5,
            3400.6, 3401.3, 3402.1, 3402.5, 3403.4, 3404.8, 3407.9, 3411.3, 3412, 3412.4, 3412.8, 3413.1, 3416.1, 3420.1, 3420.5, 3422, 3422.6, 3423.2, 3424.1, 3428.9,
            3430.9, 3436.9, 3437.6, 3438.3, 3439.2, 3446.6, 3449.4, 3452, 3454.1, 3455.4]
tri_style = [0, 1, 2, 0, 0, 0, 2, 2, 1, 2, 1, 0, 0, 2, 2, 2, 2, 1, 2, 2, 2, 0,
             0, 1, 1, 2, 1, 0, 2, 0, 1, 2, 2, 2, 2, 1, 2, 2, 2, 2, 1, 1,
             1, 2, 1, 1, 1, 2, 2, 2, 1, 3]

# ---- log interpretation column: 0 full, 2 narrow, 4 brown
log_top = [3365.2, 3365.7, 3366.8, 3367.6, 3368.6, 3369.9, 3371, 3372.4, 3372.8, 3373.9, 3374.9, 3376, 3376.9, 3378,
           3380.1, 3381.1, 3382.2, 3382.8, 3383.4, 3383.8, 3384.8, 3385.9, 3386.9, 3387.9, 3389, 3390.1, 3391.1, 3392.1, 3392.7, 3393.9, 3394.7, 3395.3, 3396,
           3397.6, 3398.6, 3399.7, 3400.8, 3402, 3403.6, 3404, 3404.3, 3405.4, 3406.4, 3407.3, 3408, 3409.1, 3410.2, 3411.6, 3413, 3414.1, 3415.2, 3416.2, 3417.3, 3418.3, 3419.4, 3420.3, 3420.6, 3421.8, 3422.9, 3424, 3425.1, 3425.9,
           3427.1, 3428, 3429, 3429.9, 3431, 3432, 3433, 3434, 3435.1, 3436, 3437, 3438, 3439.3, 3440.4, 3441.4, 3442.4, 3443.5, 3444.5, 3445.6, 3446.7, 3447.6, 3448.7, 3449.7, 3450.5, 3451.5, 3452.4, 3453.3, 3454.6, 3455.6, 3456.6, 3457.6, 3458.7, 3459.8, 3460.6]
log_base = [3365.6, 3366.6, 3367.6, 3368.5, 3369.8, 3370.9, 3372.1, 3372.7, 3373.8, 3374.8, 3375.9, 3376.8, 3377.9, 3380,
            3381, 3382.1, 3382.7, 3383.2, 3383.7, 3384.7, 3385.8, 3386.8, 3387.8, 3388.9, 3389.9, 3391, 3392, 3392.6, 3393.8, 3394.5, 3395.1, 3395.8, 3397.5,
            3398.5, 3399.6, 3400.7, 3401.9, 3403.3, 3403.9, 3404.3, 3405.3, 3406.3, 3407.2, 3407.9, 3409, 3410.1, 3411.3, 3412.9, 3414, 3415.1, 3416.1, 3417.2, 3418.2, 3419.3, 3420.2, 3420.5, 3421.7, 3422.8, 3424, 3424.9, 3425.8, 3426.9,
            3427.9, 3428.9, 3429.8, 3430.9, 3431.9, 3432.9, 3433.9, 3435, 3435.9, 3436.9, 3437.8, 3439.2, 3440.2, 3441.2, 3442.3, 3443.4, 3444.4, 3445.5, 3446.5, 3447.5, 3448.5, 3449.6, 3450.3, 3451.4, 3452.3, 3453.2, 3454.5, 3455.5, 3456.5, 3457.5, 3458.6, 3459.6, 3460.6, 3461.6]
log_kind = [0, 2, 2, 2, 4, 2, 2, 2, 0, 0, 0, 0, 0, 0,
            0, 0, 2, 4, 2, 0, 0, 0, 0, 0, 0, 0, 0, 2, 0, 2, 0, 2, 0,
            2, 0, 0, 2, 0, 0, 2, 4, 4, 4, 2, 0, 0, 0, 0, 0, 0, 0, 0, 0, 0, 0, 2, 0, 0, 2, 2, 0, 0,
            0, 0, 0, 0, 0, 0, 0, 0, 0, 0, 0, 2, 0, 0, 0, 0, 0, 0, 0, 0, 0, 0, 2, 0, 0, 0, 2, 2, 0, 0, 0, 0, 0, 0]
log_black_top = [3372.1, 3403.3, 3411.3]
log_black_base = [3372.4, 3403.6, 3411.6]

GREEN_BED = "#9CA58F"
GREY_BED = "#999999"
BROWN = "#6B2A20"
GRID = "#9a9a9a"

fig = plt.figure(figsize=(W / 100, H / 100), dpi=100, facecolor="white")


def track(x0, x1, xlim=(0, 1), log=False):
    ax = fig.add_axes([x0 / W, 1 - 2102 / H, (x1 - x0) / W, (2102 - 468) / H])
    if log:
        ax.set_xscale("log")
    ax.set_xlim(*xlim)
    ax.set_ylim(BOT_D, TOP_D)
    ax.axis("off")
    return ax


def grid(ax, vlines, solid=()):
    ax.hlines(minor_depths, *ax.get_xlim(), color=GRID, lw=1.3, ls=(0, (1, 2)), zorder=1)
    ax.vlines(vlines, TOP_D, BOT_D, color=GRID, lw=1.1, ls=(0, (2, 2.2)), zorder=1)
    if len(solid):
        ax.vlines(solid, TOP_D, BOT_D, color="k", lw=1.8, zorder=2)
    ax.hlines(major_depths, *ax.get_xlim(), color="k", lw=2.3, zorder=2)


def curve(ax, x, d, color, lw=4.2, ls="-"):
    # draw through the read knots, only the corners get rounded
    x = np.asarray(x, float)
    d = np.asarray(d, float)
    logx = ax.get_xscale() == "log"

    def along(i, j, t):
        if logx:
            xv = x[i] ** (1 - t) * x[j] ** t
        else:
            xv = x[i] + (x[j] - x[i]) * t
        return (xv, d[i] + (d[j] - d[i]) * t)

    verts = [(x[0], d[0])]
    codes = [Path.MOVETO]
    for i in range(1, len(x) - 1):
        verts += [along(i, i - 1, 0.3), (x[i], d[i]), along(i, i + 1, 0.3)]
        codes += [Path.LINETO, Path.CURVE3, Path.CURVE3]
    verts.append((x[-1], d[-1]))
    codes.append(Path.LINETO)
    ax.add_patch(PathPatch(Path(verts, codes), fc="none", ec=color, lw=lw, ls=ls,
                           joinstyle="round", capstyle="butt", zorder=4))


def log_minors(lo, hi):
    return [m * 10.0 ** k for k in range(lo, hi) for m in range(2, 10)]


# track 1
ax = track(33, 335, (0, 150))
grid(ax, [15, 30, 45, 60, 75, 90, 105, 120, 135])
curve(ax, (np.array(cali) - 6) * 15, cali_d, "#00B050", lw=3.8)
curve(ax, gr, gr_d, "#FF0000")

# depth track
ax = track(335, 420)
ax.hlines(minor_depths + major_depths, 0, 0.26, color="#999999", lw=2.2)
for d in major_depths:
    ax.text(0.97, d, str(d), ha="right", va="center", fontsize=19.5, family="Liberation Sans", color="#14142a")


def symbols(ax, d, xs, big=4.4):
    # one row of sand symbols, dots and circles in turn
    for i, x in enumerate(xs):
        if i % 2 == 1:
            ax.plot(x, d, "o", ms=big, mfc="none", mec="#222222", mew=1.5, zorder=6)
        else:
            ax.plot(x, d, "s", ms=2.8, color="#111111", zorder=6)


def bed(ax, x0, x1, top, base, color):
    ax.add_patch(Rectangle((x0, top), x1 - x0, base - top, fc=color, ec="k", lw=1.7, zorder=3))


# rock description
ax = track(420, 511)
edges = rock_upper + [None] + rock_lower
for i in range(len(edges) - 1):
    if edges[i] is None or edges[i + 1] is None:
        continue
    t, b = edges[i], edges[i + 1]
    col = GREY_BED if (rock_grey_from <= t < rock_grey_to or t >= 3407) else GREEN_BED
    bed(ax, 0.2, 1, t, b, col)
    mid = (t + b) / 2
    if t >= 3407 or i % 2 == 0:
        ax.plot([.38, .77], [mid, mid], "o", ms=4.2, mfc="none", mec="#222222", mew=1.5, zorder=6)
        ax.plot([.57], [mid], "s", ms=2.8, color="#111111", zorder=6)
    else:
        ax.plot([.67], [mid], "o", ms=4.2, mfc="none", mec="#222222", mew=1.5, zorder=6)
        ax.plot([.46, .85], [mid, mid], "s", ms=2.8, color="#111111", zorder=6)


def triangle(ax, x0, x1, top, base, style, frac=0.58):
    h = (base - top) * frac
    c = (top + base) / 2
    tip, foot = c - h / 2, c + h / 2
    xm = (x0 + x1) / 2
    if style == 3:
        ax.add_patch(Rectangle((xm - 0.035, top), 0.07, base - top, fc="#FF0000", ec="none", zorder=5))
        return
    if style in (1, 2):
        start = tip if style == 2 else (tip + foot) / 2
        s = (start - tip) / (foot - tip)
        pts = [(xm - (xm - x0) * s, start), (xm + (xm - x0) * s, start), (x1, foot), (x0, foot)]
        ax.add_patch(Polygon(pts, fc="#FF0000", ec="none", zorder=5))
    ax.add_patch(Polygon([(xm, tip), (x1, foot), (x0, foot)], fc="none", ec="#FF0000", lw=1.9, zorder=5))


tops = rock_tri_upper[:-1]
bases = rock_tri_upper[1:]
for t, b in zip(tops, bases):
    bed(ax, 0, 0.18, t, b, "white")
    triangle(ax, .03, .15, t, b, 0, 0.62)
for t, b in zip(rock_lower[:-1], rock_lower[1:]):
    bed(ax, 0, 0.18, t, b, "white")
    triangle(ax, .03, .15, t, b, 0, 0.62)
bed(ax, 0, 0.18, 3365.2, 3365.9, "white")
ax.add_patch(Rectangle((.04, 3365.2), .1, .3, fc="#FF0000", ec="none", zorder=5))
for t, b in zip(silt_top, silt_base):
    bed(ax, 0, 0.33, t, b, GREEN_BED)
    ax.plot([.08, .17, .26], [(t + b) / 2] * 3, "_", ms=6, mew=2, color="k", zorder=6)

# lithology
ax = track(511, 682)
for t, b in zip(lith_black_top, lith_black_base):
    ax.add_patch(Rectangle((0, t), 1, b - t, fc="k", ec="none", zorder=7))
for n, (t, b, k) in enumerate(zip(lith_top, lith_base, lith_kind)):
    mid = (t + b) / 2
    if k == 4:
        bed(ax, 0, .335, t, b, BROWN)
        ax.plot([.09, .17, .25], [mid] * 3, "_", ms=6, mew=2.2, color="k", zorder=6)
        continue
    col = GREEN_BED if k in (1, 3) else GREY_BED
    x1 = .87 if k in (2, 3) else 1
    bed(ax, .2, x1, t, b, col)
    if b - t < 0.35:
        ax.plot([.38, .56, .76], [mid] * 3, "s", ms=2, color="#111111", zorder=6)
    elif k in (2, 3):
        symbols(ax, mid, [.29, .43, .56, .70])
    elif n % 2 == 0:
        ax.plot([.38, .76], [mid, mid], "o", ms=4.6, mfc="none", mec="#222222", mew=1.5, zorder=6)
        ax.plot([.56], [mid], "s", ms=2.8, color="#111111", zorder=6)
    else:
        ax.plot([.66], [mid], "o", ms=4.6, mfc="none", mec="#222222", mew=1.5, zorder=6)
        ax.plot([.47, .84], [mid, mid], "P", ms=4, color="#111111", mew=0, zorder=6)
for t, b, s in zip(tri_top, tri_base, tri_style):
    bed(ax, .006, .187, t, b, "white")
    triangle(ax, .04, .15, t, b, s, 0.6 if b - t < 2 else 0.5)

# log interpretation
ax = track(682, 851)
for t, b in zip(log_black_top, log_black_base):
    ax.add_patch(Rectangle((0, t), 1, b - t, fc="k", ec="none", zorder=7))
for n, (t, b, k) in enumerate(zip(log_top, log_base, log_kind)):
    mid = (t + b) / 2
    if k == 4:
        bed(ax, 0, .34, t, b, BROWN)
        ax.plot([.07, .16, .25], [mid] * 3, "_", ms=6, mew=2.2, color="k", zorder=6)
        continue
    x1 = .86 if k == 2 else 1
    bed(ax, 0, x1, t, b, GREY_BED)
    if b - t < 0.35:
        ax.plot([.11, .30, .48, .64], [mid] * 4, "s", ms=2, color="#111111", zorder=6)
    elif k == 2:
        symbols(ax, mid, [.11, .48, .30, .64] if n % 2 else [.21, .38, .56, .76], big=5.4)
    elif n % 2 == 0:
        ax.plot([.22, .70], [mid, mid], "o", ms=4.6, mfc="none", mec="#222222", mew=1.5, zorder=6)
        ax.plot([.45], [mid], "s", ms=2.8, color="#111111", zorder=6)
    else:
        ax.plot([.57], [mid], "o", ms=4.6, mfc="none", mec="#222222", mew=1.5, zorder=6)
        ax.plot([.33, .80], [mid, mid], "s", ms=2.8, color="#111111", zorder=6)

# resistivity
ax = track(851, 1191, (1, 100), log=True)
grid(ax, log_minors(0, 2), [10])
curve(ax, 10 ** np.array(rxo_log), rxo_d, "#0000FF")
curve(ax, 10 ** np.array(rt_log), rt_d, "#FF0000")
curve(ax, 10 ** np.array(ri_log), rt_d, "#1A78B8", lw=3.9, ls=(0, (2.2, 1.9)))

# density, sonic, neutron
ax = track(1191, 1527, (1.95, 2.95))
grid(ax, [2.05, 2.15, 2.25, 2.35, 2.45, 2.55, 2.65, 2.75, 2.85])
curve(ax, (150 - np.array(ac)) / 100 + 1.95, ac_d, "#00B050", lw=4.0)
curve(ax, (0.45 - np.array(cnl)) / 0.6 + 1.95, cnl_d, "#0000FF")
curve(ax, den, den_d, "#FF0000", lw=4.6)

# mud gas
ax = track(1527, 1872, (1e-4, 100), log=True)
grid(ax, log_minors(-4, 2), [1e-3, 1e-2, 1e-1, 1, 10])
for vals, col in [(nc5, "#7030A0"), (ic5, "#00FF00"), (nc4, "#0000FF"), (ic4, "#FF00FF"), (c3, "#00B050"),
                  (c2, "#002060"), (c1, "#C00000"), (ql, "#000000")]:
    curve(ax, 10 ** np.array(vals), gas_d, col, lw=3.2)

# nmr bars
for x0, x1, xmax, vals, dots, ticks in [
    (1872, 2208, 2, t2gm, t2_dot, [.2, .4, .6, .8, 1, 1.2, 1.4, 1.6, 1.8]),
    (2208, 2537, 1.2, pore, pore_dot, [.12, .24, .36, .48, .6, .72, .84, .96, 1.08]),
]:
    ax = track(x0, x1, (0, xmax))
    grid(ax, ticks)
    ax.fill_betweenx(bar_d, 0, vals, step="post", color="k", lw=0, zorder=3)
    ax.plot(dots, dot_d, "o", color="#FF0000", ms=9, mec="#cc0000", zorder=6)

# ---- header, in figure pixels
hdr = fig.add_axes([0, 0, 1, 1], zorder=20)
hdr.set_xlim(0, W)
hdr.set_ylim(H, 0)
hdr.axis("off")


def stext(x, y, s, size=18, color="#111111", ha="center", family=SERIF):
    hdr.text(x, y + 2, s, fontsize=size, color=color, ha=ha, va="center", family=family)


def hline(x0, x1, y, lw=1.8, color="k", **kw):
    hdr.plot([x0, x1], [y, y], color=color, lw=lw, solid_capstyle="butt", dash_capstyle="butt", **kw)


for x in [335, 420, 511, 682, 851, 1191, 1527, 1872, 2208]:
    hdr.plot([x, x], [25, 2102], color="k", lw=1.9)
hline(33, 2537, 468)
for y in [167, 318]:
    hline(33, 335, y)
    hline(851, 1191, y)
for y in [108.5, 198, 287.5, 377]:
    hline(1191, 1527, y)
for y in [76, 132, 188, 244, 300, 356, 413]:
    hline(1527, 1872, y)
hline(1872, 2537, 244)
for x in [511, 682, 851, 1191, 1872]:
    hdr.add_patch(Polygon([(x + 1, 26), (x + 24, 26), (x + 1, 48)], fc="#7FB77E", ec="none"))

# left logging legend
for name, ycap, yline, lo, hi, x0, x1, xlo, xhi, col, ls in [
    ("CALI", 84, 106, "6", "16", 81, 273, 62, 293, "#00B050", "-"),
    ("SP", 234, 255, "−80", "50", 107, 273, 75, 293, "#0000FF", (0, (6.1, 2.2))),
    ("GR", 382, 405, "0", "150", 81, 259, 62, 287, "#FF0000", "-"),
]:
    stext(179, ycap, name, 22, col if name != "CALI" else "#222244")
    stext(xlo, yline, lo)
    stext(xhi, yline, hi)
    hline(x0, x1, yline, lw=4.5, color=col, ls=ls)
for name, ycap, yline, col, ls in [
    ("RT", 84, 106, "#FF0000", "-"),
    ("RI", 234, 255, "#1A78B8", (0, (2.2, 1.9))),
    ("RXO", 383, 405, "#0000FF", "-"),
]:
    stext(1017, ycap, name, 22)
    stext(883, yline, "1")
    stext(1140, yline, "100")
    hline(902, 1111, yline, lw=4.5, color=col, ls=ls)
for name, ycap, yline, lo, hi, x0, x1, xlo, xhi, col in [
    ("DEN", 56, 77, "1.95", "2.95", 1280, 1437, 1242, 1472, "#FF0000"),
    ("AC", 145, 167, "150", "50", 1266, 1463, 1236, 1485, "#00B050"),
    ("CNL", 234, 255, "0.45", "−0.15", 1280, 1424, 1242, 1465, "#0000FF"),
    ("DEN2", 324, 345, "1.95", "2.95", 1280, 1437, 1242, 1472, "#000000"),
    ("DENb", 413, 435, "1.95", "2.95", 1280, 1437, 1242, 1472, "#FF0000"),
]:
    stext(1356, ycap, name, 22)
    stext(xlo, yline, lo)
    stext(xhi, yline, hi)
    hline(x0, x1, yline, lw=4.5, color=col)
for name, ycap, yline, col in [
    ("NC5", 38, 60, "#7030A0"), ("IC5", 88, 116, "#00FF00"), ("NC4", 147, 172, "#0000FF"),
    ("IC4", 205, 228, "#FF00FF"), ("C3", 261, 283, "#00B050"), ("C2", 317, 340, "#002060"),
    ("C1", 377, 396, "#C00000"), ("QL", 431, 452, "#000000"),
]:
    stext(1695, ycap, name, 22)
    stext(1591, yline, "0.0001")
    stext(1821, yline, "100")
    hline(1645, 1793, yline, lw=4.2, color=col)

# nmr legends
stext(2039, 106, "T2gm", 22)
stext(1905, 144, "0")
stext(2172, 144, "2")
stext(2037, 173, "ms", 20)
hline(1922, 2158, 144, lw=3.2, color="#222222")
stext(2263, 77, "Nuclear magnetic", 16, ha="left", family=SANS)
stext(2263, 124, "pore throat radius", 16, ha="left", family=SANS)
stext(2241, 144, "0")
stext(2500, 144, "1.2")
stext(2382, 168, "μm", 20)
hline(2261, 2469, 144, lw=3.2, color="#222222")
stext(1922, 297, "Mercury injection", 16, ha="left", family=SANS)
stext(1922, 343, "curve throat radius", 16, ha="left", family=SANS)
stext(1905, 367, "0")
stext(2160, 367, "1.2")
stext(2042, 390, "μm", 20)
hline(1922, 2131, 367, lw=3.2, color="#333333")
hdr.plot([2040], [367], "o", color="#FF0000", ms=10)
stext(2259, 302, "Mercury injection", 16, ha="left", family=SANS)
stext(2259, 347, "curve throat radius", 16, ha="left", family=SANS)
stext(2241, 367, "0")
stext(2500, 367, "1.2")
stext(2382, 390, "μm", 20)
hline(2261, 2469, 367, lw=3.2, color="#333333")
hdr.plot([2378], [367], "o", color="#FF0000", ms=10)

# column titles
stext(377, 261, "Depth", 20, family=SANS)
stext(429, 221, "Rock", 20, ha="left", family=SANS)
stext(429, 271, "descri", 20, ha="left", family=SANS)
stext(429, 323, "ption", 20, ha="left", family=SANS)
stext(606, 270, "lithology", 21, family=SANS)
for y, s in [(195, "Log"), (241, "interpretatio"), (287, "n of rock"), (333, "description")]:
    stext(692, y, s, 16, ha="left", family=SANS)

# outer frame
hdr.add_patch(Rectangle((33, 25), 2504, 2077, fc="none", ec="k", lw=4.3, zorder=30))

fig.savefig("out.png", dpi=100)
